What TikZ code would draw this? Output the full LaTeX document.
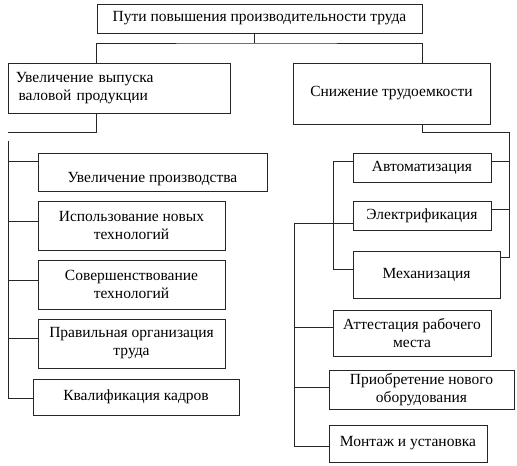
\documentclass[tikz,border=0pt]{standalone}
\usepackage{fontspec}
\setmainfont{Liberation Serif}
\usetikzlibrary{calc}
\tikzset{
  box/.style={draw=black!85, line width=0.9pt, inner sep=0pt, align=center, font=\fontsize{15.5}{18}\selectfont},
  conn/.style={draw=black!85, line width=0.9pt}
}
\begin{document}
\begin{tikzpicture}[x=1pt,y=-1pt]
\useasboundingbox (0,0) rectangle (517,466);
% top level
\node[box, minimum width=325, minimum height=29] (top) at (259.5,18.5) {Пути повышения производительности труда};
\node[box, minimum width=222, minimum height=50, align=left, text width=206] (L) at (119,88)
  {\fontsize{15.5}{27}\selectfont Увеличение выпуска\\ \,валовой продукции};
\node[box, minimum width=197, minimum height=61] (R) at (391.5,93.5) {Снижение трудоемкости};
% left column
\node[box, minimum width=229, minimum height=38, text height=23, text depth=3] (A1) at (152.5,172) {Увеличение производства};
\node[box, minimum width=187, minimum height=49] (A2) at (131.5,225.5) {Использование новых\\технологий};
\node[box, minimum width=187, minimum height=49] (A3) at (131.5,284.5) {Совершенствование\\технологий};
\node[box, minimum width=187, minimum height=49] (A4) at (131.5,343.5) {Правильная организация\\труда};
\node[box, minimum width=206, minimum height=36] (A5) at (136,397) {Квалификация кадров};
% right column
\node[box, minimum width=138, minimum height=29] (B1) at (422,167.5) {Автоматизация};
\node[box, minimum width=138, minimum height=29] (B2) at (422,215.5) {Электрификация};
\node[box, minimum width=147, minimum height=47] (B3) at (426.5,274.5) {Механизация};
\node[box, minimum width=158, minimum height=46] (C1) at (412,333) {Аттестация рабочего\\места};
\node[box, minimum width=185, minimum height=39] (C2) at (421.5,389.5) {Приобретение нового\\оборудования};
\node[box, minimum width=158, minimum height=37] (C3) at (408,443.5) {Монтаж и установка};
% junction coordinates
\coordinate (hub) at (254,43);
\coordinate (lstem) at (8,132);
\coordinate (lbus) at (8,141);
\coordinate (rstem) at (509,132);
\coordinate (ibus) at (333,0);
\coordinate (obus) at (294,0);
% connectors top
\draw[conn] (hub |- top.south) -- (hub);
\draw[conn] (L.north -| top.west) |- (hub) -| (R.north -| top.east);
\draw[conn] (L.south -| top.west) |- (lstem);
\draw[conn] (R.south -| top.east) |- (rstem);
% left bus
\coordinate (a1) at ($(A1.north west)!0.24!(A1.south west)$);
\coordinate (a2) at ($(A2.north west)!0.41!(A2.south west)$);
\coordinate (a3) at ($(A3.north west)!0.41!(A3.south west)$);
\coordinate (a4) at ($(A4.north west)!0.39!(A4.south west)$);
\coordinate (a5) at ($(A5.north west)!0.53!(A5.south west)$);
\draw[conn] (lbus) -- (lbus |- a5);
\draw[conn] (lbus |- a1) -- (a1);
\draw[conn] (lbus |- a2) -- (a2);
\draw[conn] (lbus |- a3) -- (a3);
\draw[conn] (lbus |- a4) -- (a4);
\draw[conn] (lbus |- a5) -- (a5);
% right bus
\coordinate (b1r) at ($(B1.north east)!0.31!(B1.south east)$);
\coordinate (b2r) at ($(B2.north east)!0.31!(B2.south east)$);
\coordinate (b3r) at ($(B3.north east)!0.15!(B3.south east)$);
\draw[conn] (rstem) -- (rstem |- b3r) -- (b3r);
\draw[conn] (rstem |- b1r) -- (b1r);
\draw[conn] (rstem |- b2r) -- (b2r);
% inner bus
\coordinate (b1l) at ($(B1.north west)!0.31!(B1.south west)$);
\coordinate (b3l) at ($(B3.north west)!0.40!(B3.south west)$);
\draw[conn] (b1l) -- (ibus |- b1l) -- (ibus |- b3l) -- (b3l);
% outer bus
\coordinate (b2l) at ($(B2.north west)!0.76!(B2.south west)$);
\coordinate (c1) at ($(C1.north west)!0.39!(C1.south west)$);
\coordinate (c2) at ($(C2.north west)!0.46!(C2.south west)$);
\coordinate (c3) at ($(C3.north west)!0.59!(C3.south west)$);
\draw[conn] (b2l) -- (obus |- b2l) -- (obus |- c3) -- (c3);
\draw[conn] (obus |- c1) -- (c1);
\draw[conn] (obus |- c2) -- (c2);
\end{tikzpicture}
\end{document}
